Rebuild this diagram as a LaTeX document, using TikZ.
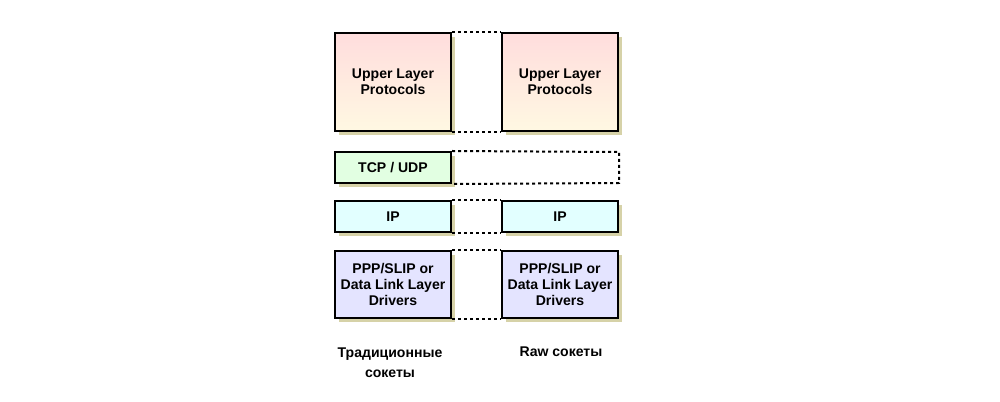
\documentclass[tikz,border=0pt]{standalone}
\usepackage{fontspec}
\setmainfont{Liberation Sans}
\usetikzlibrary{shadows}
\definecolor{shadowkhaki}{RGB}{214,210,168}
\definecolor{upperTop}{RGB}{255,221,221}
\definecolor{upperBot}{RGB}{255,248,226}
\definecolor{tcpFill}{RGB}{226,255,226}
\definecolor{ipFill}{RGB}{226,255,255}
\definecolor{pppFill}{RGB}{228,228,255}
\begin{document}
\begin{tikzpicture}[x=0.03cm,y=-0.03cm,
  layer/.style={draw,line width=0.06cm,minimum width=3.48cm,inner sep=0pt,align=center,
    font=\fontsize{12}{13.6}\selectfont\bfseries,
    drop shadow={shadow xshift=0.12cm,shadow yshift=-0.12cm,fill=shadowkhaki,opacity=1}},
  dotline/.style={line width=0.06cm,dash pattern=on 0.09cm off 0.09cm},
  caption/.style={align=center,font=\fontsize{12}{17}\selectfont\bfseries}]
  \useasboundingbox (0,0) rectangle (1000,402);
  % upper layer
  \node[layer,minimum height=2.94cm,top color=upperTop,bottom color=upperBot] (ulL) at (393,82) {Upper Layer\\Protocols};
  \node[layer,minimum height=2.94cm,top color=upperTop,bottom color=upperBot] (ulR) at (560,82) {Upper Layer\\Protocols};
  \draw[dotline] (ulL.north east) -- (ulR.north west);
  \draw[dotline] (ulL.south east) -- (ulR.south west);
  % transport
  \node[layer,minimum height=0.93cm,fill=tcpFill] (tcp) at (393,167.5) {TCP / UDP};
  \coordinate (tcpNE) at (619,152);
  \coordinate (tcpSE) at (619,183);
  \draw[dotline] (tcp.north east) -- (tcpNE) -- (tcpSE) -- (tcp.south east);
  % network
  \node[layer,minimum height=0.93cm,fill=ipFill] (ipL) at (393,216.5) {IP};
  \node[layer,minimum height=0.93cm,fill=ipFill] (ipR) at (560,216.5) {IP};
  \draw[dotline] (ipL.north east) -- (ipR.north west);
  \draw[dotline] (ipL.south east) -- (ipR.south west);
  % link
  \node[layer,minimum height=2.01cm,fill=pppFill] (pppL) at (393,284.5) {PPP/SLIP or\\Data Link Layer\\Drivers};
  \node[layer,minimum height=2.01cm,fill=pppFill] (pppR) at (560,284.5) {PPP/SLIP or\\Data Link Layer\\Drivers};
  \draw[dotline] (pppL.north east) -- (pppR.north west);
  \draw[dotline] (pppL.south east) -- (pppR.south west);
  % captions
  \node[caption] (capL) at (390,363) {Традиционные\\сокеты};
  \node[caption] (capR) at (561,352) {Raw сокеты};
\end{tikzpicture}
\end{document}
